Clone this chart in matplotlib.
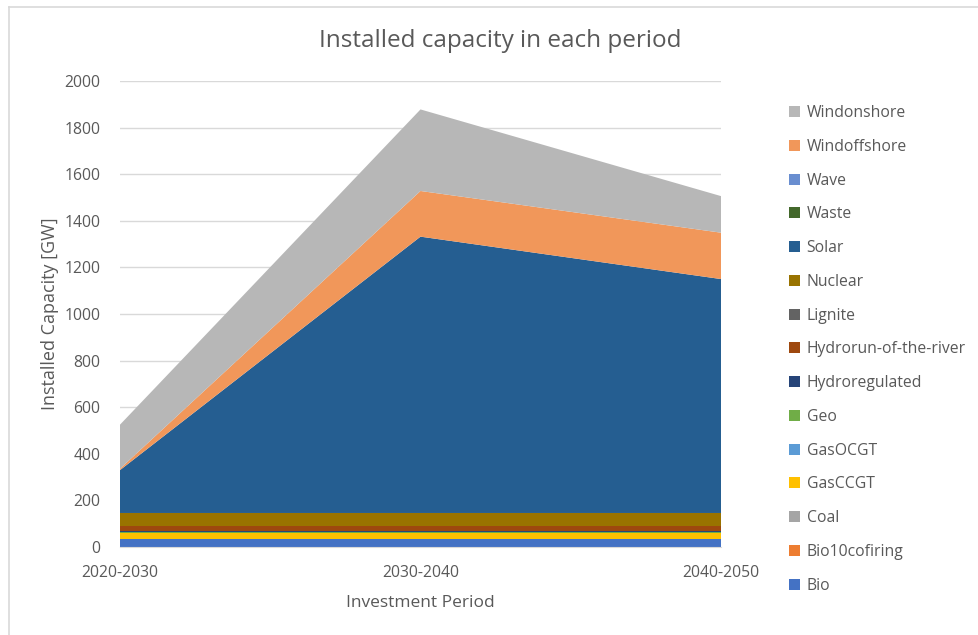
import matplotlib
matplotlib.use("Agg")
import matplotlib.pyplot as plt
from matplotlib.patches import Patch
from matplotlib.lines import Line2D

periods = ["2020-2030", "2030-2040", "2040-2050"]
techs = ["Bio", "Bio10cofiring", "Coal", "GasCCGT", "GasOCGT", "Geo",
         "Hydroregulated", "Hydrorun-of-the-river", "Lignite", "Nuclear",
         "Solar", "Waste", "Wave", "Windoffshore", "Windonshore"]
bio = [35, 35, 35]
bio10cofiring = [0, 0, 0]
coal = [0, 0, 0]
gasccgt = [25, 25, 25]
gasocgt = [2, 2, 2]
geo = [3, 3, 3]
hydroregulated = [2, 2, 2]
hydrorun = [21, 21, 21]
lignite = [0, 0, 0]
nuclear = [58, 58, 58]
solar = [184, 1186, 1004]
waste = [0, 0, 0]
wave = [0, 0, 0]
windoffshore = [6, 196, 199]
windonshore = [189, 350, 157]

series = [bio, bio10cofiring, coal, gasccgt, gasocgt, geo, hydroregulated,
          hydrorun, lignite, nuclear, solar, waste, wave, windoffshore, windonshore]
colors = ["#4472C4", "#ED7D31", "#A5A5A5", "#FFC000", "#5B9BD5", "#70AD47",
          "#264478", "#9E480E", "#636363", "#997300", "#255E91", "#43682B",
          "#698ED0", "#F1975A", "#B7B7B7"]

plt.rcParams['font.family'] = ['Open Sans', 'DejaVu Sans']
txt = "#595959"

fig = plt.figure(figsize=(9.79, 6.35), dpi=100)
ax = fig.add_axes([120/979, 1-547/635, (721-120)/979, (547-81)/635])

x = list(range(len(periods)))
ax.stackplot(x, *series, colors=colors, labels=techs, linewidth=0)

ax.set_xlim(0, 2)
ax.set_ylim(0, 2000)
ax.set_yticks(range(0, 2001, 200))
ax.set_xticks(x)
ax.set_xticklabels(periods)
ax.yaxis.grid(True, color="#D9D9D9", linewidth=1)
ax.set_axisbelow(True)
for s in ["top", "right", "left"]:
    ax.spines[s].set_visible(False)
ax.spines["bottom"].set_color("#D9D9D9")
ax.tick_params(axis="both", length=0, labelsize=11.3, colors=txt)
ax.tick_params(axis="x", pad=13)
ax.tick_params(axis="y", pad=14)
ax.set_ylabel("Installed Capacity [GW]", fontsize=13, color=txt, labelpad=4)
ax.set_xlabel("Investment Period", fontsize=12.5, color=txt, labelpad=10)

fig.text(0.511, 1-41/635, "Installed capacity in each period", ha="center",
         va="center", fontsize=17.5, color=txt)

handles = [Patch(facecolor=c, edgecolor="none") for c in colors]
leg = fig.legend(handles[::-1], techs[::-1], loc="upper left",
                 bbox_to_anchor=(783/979, 1-99/635), frameon=False,
                 fontsize=11.3, handlelength=0.7, handleheight=0.7,
                 handletextpad=0.4, labelspacing=1.13, borderaxespad=0)
for t in leg.get_texts():
    t.set_color(txt)

# chart area border
fig.add_artist(Line2D([9/979, 9/979], [0, 1-7/635], transform=fig.transFigure,
                      color="#D9D9D9", linewidth=1.2))
fig.add_artist(Line2D([9/979, 1], [1-7/635, 1-7/635], transform=fig.transFigure,
                      color="#D9D9D9", linewidth=1.2))

fig.savefig("out.png", dpi=100)
